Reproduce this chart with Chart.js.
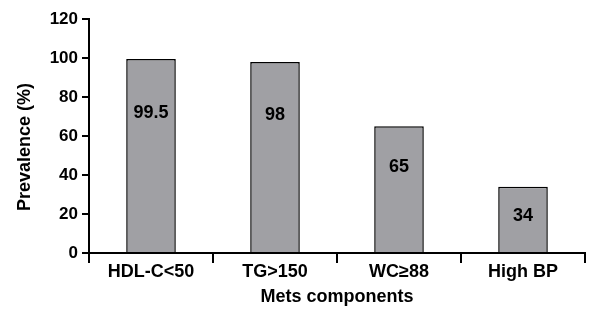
<!DOCTYPE html>
<html><head><meta charset="utf-8">
<script src="https://cdn.jsdelivr.net/npm/chart.js@4/dist/chart.umd.min.js"></script>
<style>html,body{margin:0;padding:0;background:#fff}#wrap{width:591px;height:309px}</style>
</head><body><div id="wrap"><canvas id="c"></canvas></div>
<script>
const categories = ["HDL-C<50", "TG>150", "WC\u226588", "High BP"];
const prevalence = [99.5, 98, 65, 34];
const valueLabels = ["99.5", "98", "65", "34"];
const yTicks = [0, 20, 40, 60, 80, 100, 120];
const yTitle = "Prevalence (%)";
const xTitle = "Mets components";

const FONT = "'Liberation Sans', Arial, sans-serif";

const innerLabels = {
  id: 'innerLabels',
  afterDatasetsDraw(chart) {
    const ctx = chart.ctx;
    const meta = chart.getDatasetMeta(0);
    ctx.save();
    ctx.font = "bold 18px " + FONT;
    ctx.fillStyle = "#000";
    ctx.textAlign = "center";
    ctx.textBaseline = "middle";
    meta.data.forEach((bar, i) => {
      const h = bar.base - bar.y;
      ctx.fillText(valueLabels[i], bar.x, bar.y + 17 + 0.19 * h);
    });
    ctx.restore();
  }
};

const yTitlePlugin = {
  id: 'yTitlePlugin',
  afterDraw(chart) {
    const ctx = chart.ctx;
    const a = chart.chartArea;
    ctx.save();
    ctx.translate(25, (a.top + a.bottom) / 2 + 11);
    ctx.rotate(-Math.PI / 2);
    ctx.font = "bold 18px " + FONT;
    ctx.fillStyle = "#000";
    ctx.textAlign = "center";
    ctx.textBaseline = "middle";
    ctx.fillText(yTitle, 0, 0);
    ctx.restore();
  }
};

new Chart(document.getElementById('c'), {
  type: 'bar',
  data: {
    labels: categories,
    datasets: [{
      data: prevalence,
      backgroundColor: '#a0a0a4',
      borderColor: '#000',
      borderWidth: 1.5,
      barPercentage: 0.4,
      categoryPercentage: 1.0
    }]
  },
  options: {
    responsive: true,
    maintainAspectRatio: false,
    animation: false,
    layout: { padding: { top: 19, right: 6, left: 0, bottom: 0 } },
    plugins: { legend: { display: false }, tooltip: { enabled: false } },
    scales: {
      x: {
        offset: true,
        grid: { offset: true, drawOnChartArea: false, drawTicks: true, tickLength: 10, color: '#000', lineWidth: 2 },
        border: { color: '#000', width: 2 },
        ticks: { color: '#000', font: { family: FONT, size: 18, weight: 'bold' }, padding: -2, maxRotation: 0 },
        title: { display: true, text: xTitle, color: '#000', font: { family: FONT, size: 18, weight: 'bold' }, padding: { top: 4, bottom: 1 } },
        afterFit(axis) { axis.height = 56; }
      },
      y: {
        min: 0, max: 120,
        afterBuildTicks(axis) { axis.ticks = yTicks.map(v => ({ value: v })); },
        grid: { drawOnChartArea: false, drawTicks: true, tickLength: 7, color: '#000', lineWidth: 2 },
        border: { color: '#000', width: 2 },
        ticks: { color: '#000', font: { family: FONT, size: 17, weight: 'bold' }, padding: 4 },
        title: { display: false },
        afterFit(axis) { axis.width = 89; }
      }
    }
  },
  plugins: [innerLabels, yTitlePlugin]
});
</script></body></html>
